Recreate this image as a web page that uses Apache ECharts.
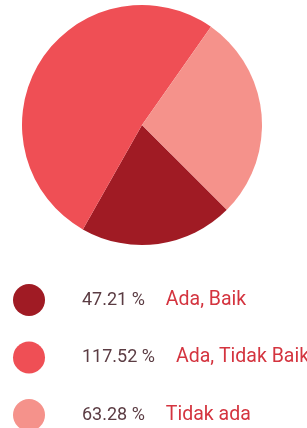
<!DOCTYPE html>
<html>
<head>
<meta charset="utf-8">
<script src="https://cdn.jsdelivr.net/npm/echarts@6/dist/echarts.min.js"></script>
<style>html,body{margin:0;padding:0;background:#fff}#c{width:307px;height:428px}</style>
</head>
<body>
<div id="c"></div>
<script>
const categories = ['Ada, Baik', 'Ada, Tidak Baik', 'Tidak ada'];
const values = [47.21, 117.52, 63.28];
const colors = ['#a01b24', '#ef4f55', '#f5928b'];

const chart = echarts.init(document.getElementById('c'), null, {renderer: 'canvas'});
const data = categories.map((n, i) => ({name: n, value: values[i], itemStyle: {color: colors[i]}}));
const legends = categories.map((name, i) => ({
  orient: 'vertical',
  left: 13,
  top: 284 + i * 57.5,
  padding: 0,
  icon: 'circle',
  itemWidth: 32,
  itemHeight: 32,
  selectedMode: false,
  data: [name],
  formatter: function (nm) {
    const k = categories.indexOf(nm);
    return '{v|' + values[k].toFixed(2) + ' %}{n|' + nm + '}';
  },
  textStyle: {
    rich: {
      v: {fontFamily: 'Roboto', fontSize: 18, color: '#5b3c43', padding: [0, 0, 0, 32]},
      n: {fontFamily: 'Roboto', fontSize: 19.5, color: '#d4343f', padding: [0, 0, 0, 21]}
    }
  }
}));
chart.setOption({
  animation: false,
  backgroundColor: '#fff',
  legend: legends,
  series: [{
    type: 'pie',
    center: [142, 125],
    radius: [0, 120],
    startAngle: -45,
    clockwise: true,
    label: {show: false},
    labelLine: {show: false},
    silent: true,
    data: data
  }]
});
</script>
</body>
</html>
